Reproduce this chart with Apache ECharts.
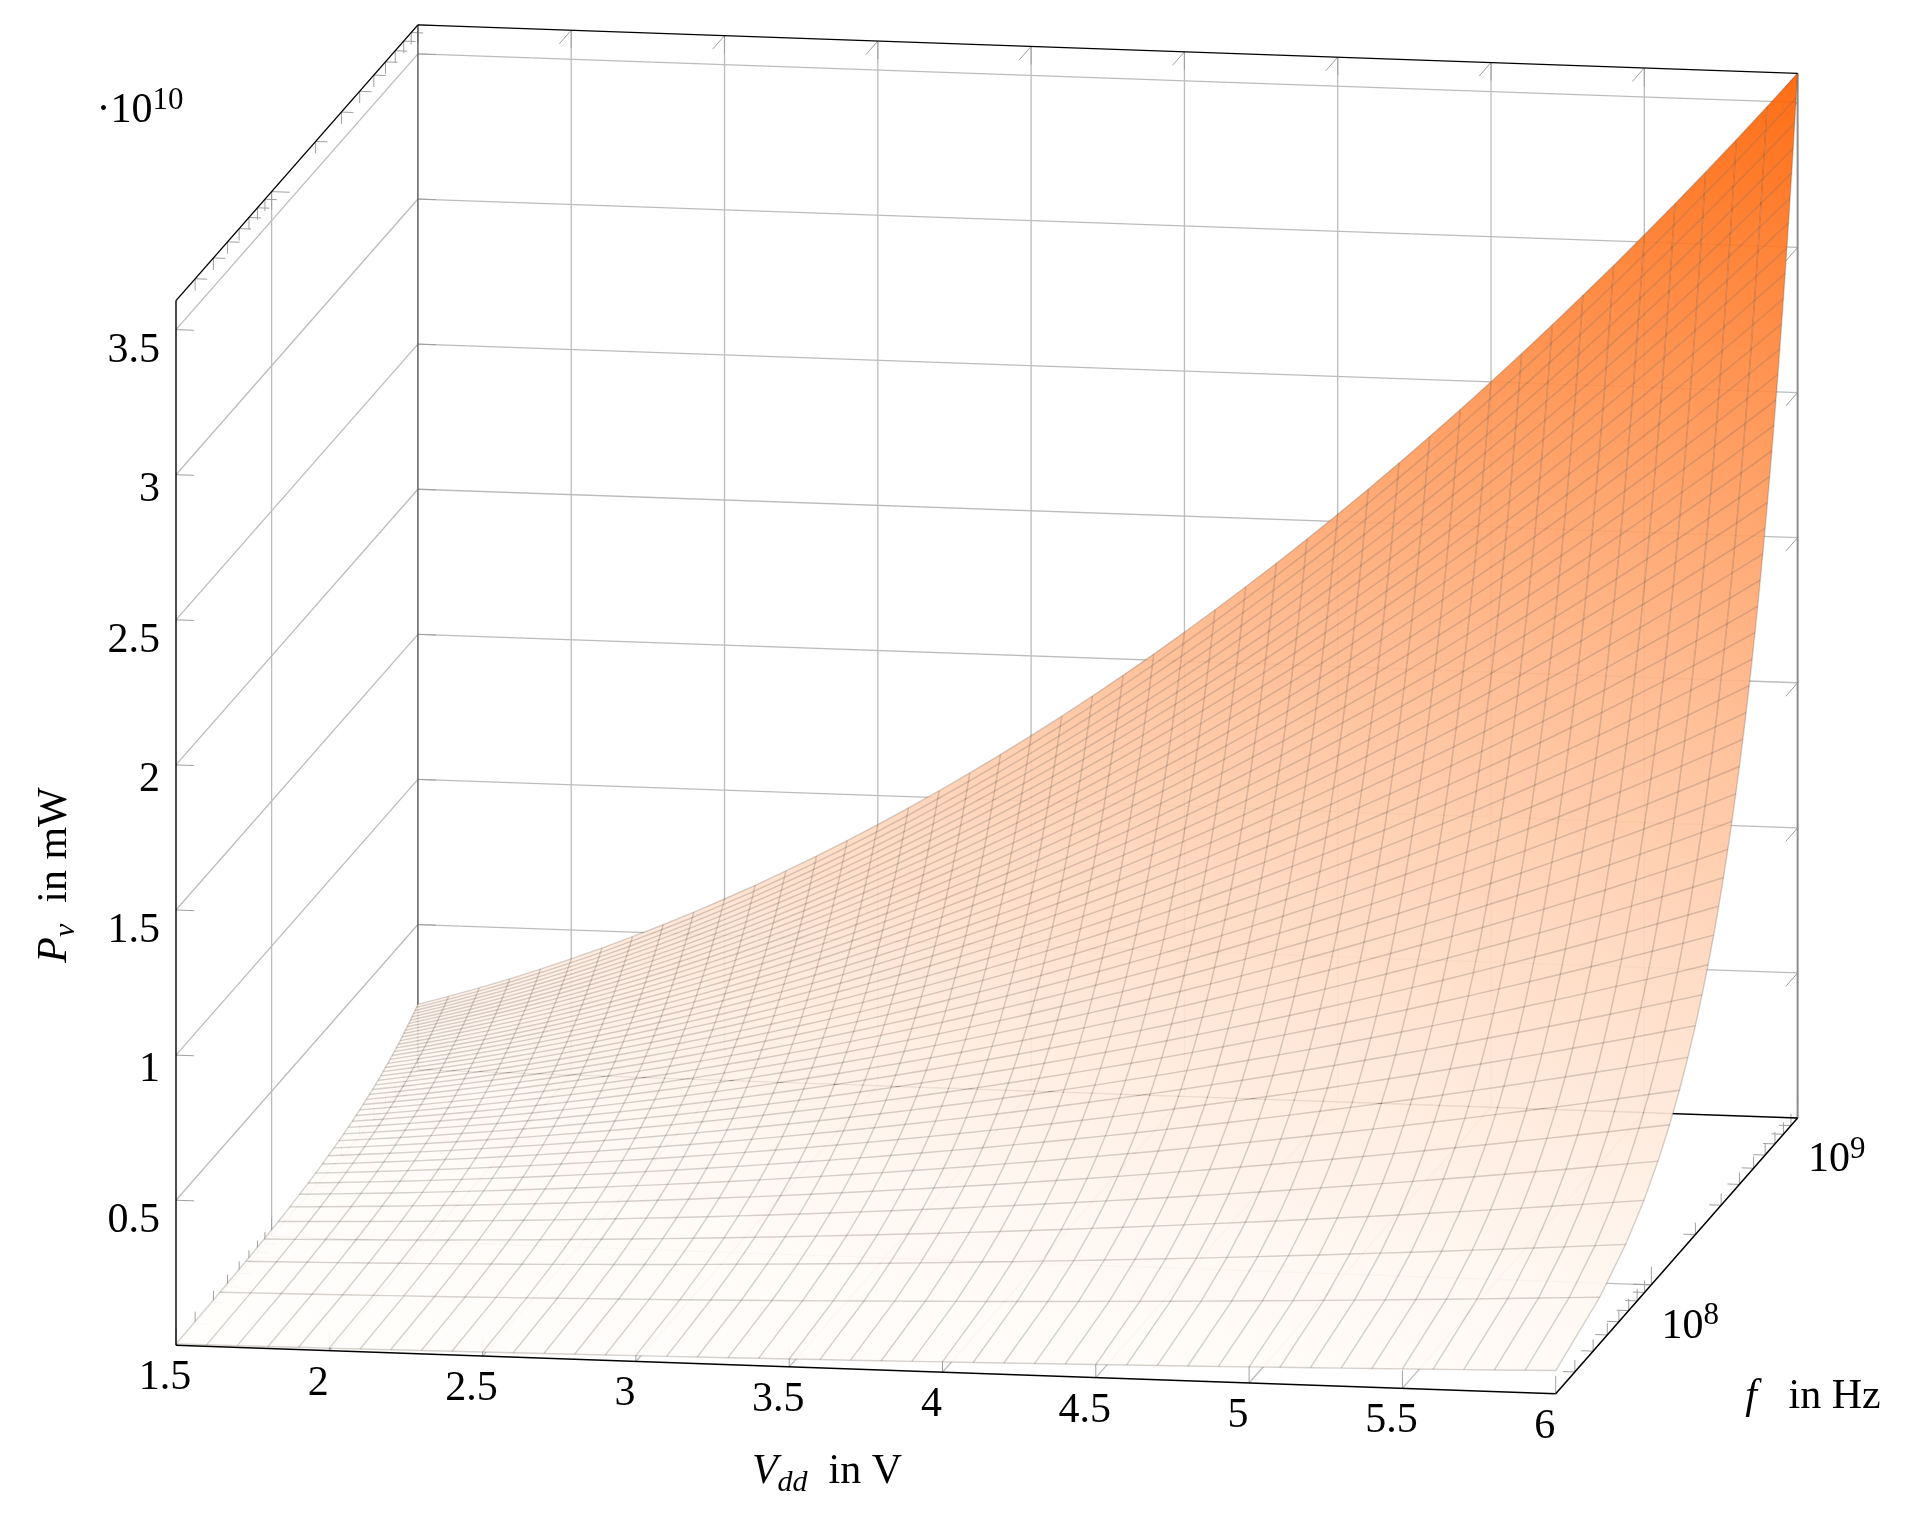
<!DOCTYPE html>
<html>
<head>
<meta charset="utf-8">
<title>Pv over Vdd and f</title>
<script src="https://cdn.jsdelivr.net/npm/echarts@6/dist/echarts.min.js"></script>
<style>
  html, body { margin: 0; background: #fff; }
  #chart { width: 1920px; height: 1529px; }
</style>
</head>
<body>
<div id="chart"></div>
<script>
// mesh samples: V, f in MHz, power along the back edge (f = 1 GHz) in 1e10 mW
const voltages = [1.5,1.6,1.7,1.8,1.9,2,2.1,2.2,2.3,2.4,2.5,2.6,2.7,2.8,2.9,3,3.1,3.2,3.3,3.4,3.5,3.6,3.7,3.8,3.9,4,4.1,4.2,4.3,4.4,4.5,4.6,4.7,4.8,4.9,5,5.1,5.2,5.3,5.4,5.5,5.6,5.7,5.8,5.9,6]
const frequencies = [22.2,44.4,66.7,88.9,111.1,133.3,155.6,177.8,200,222.2,244.4,266.7,288.9,311.1,333.3,355.6,377.8,400,422.2,444.4,466.7,488.9,511.1,533.3,555.6,577.8,600,622.2,644.4,666.7,688.9,711.1,733.3,755.6,777.8,800,822.2,844.4,866.7,888.9,911.1,933.3,955.6,977.8,1000]
const backEdgePower = [0.225,0.256,0.289,0.324,0.361,0.4,0.441,0.484,0.529,0.576,0.625,0.676,0.729,0.784,0.841,0.9,0.961,1.024,1.089,1.156,1.225,1.296,1.369,1.444,1.521,1.6,1.681,1.764,1.849,1.936,2.025,2.116,2.209,2.304,2.401,2.5,2.601,2.704,2.809,2.916,3.025,3.136,3.249,3.364,3.481,3.6]

// ticks
const vTicks = [1.5,2,2.5,3,3.5,4,4.5,5,5.5,6]
const vTickLabels = ['1.5','2','2.5','3','3.5','4','4.5','5','5.5','6']
const pTicks = [0.5,1,1.5,2,2.5,3,3.5]
const pTickLabels = ['0.5','1','1.5','2','2.5','3','3.5']
const fMajorTicks = [100,1000]
const fMajorExponents = ['8','9']
const fMinorTicks = [30,40,50,60,70,80,90,200,300,400,500,600,700,800,900]

const vMin = 1.5, vMax = 6, pMax = 3.6
const fMin = frequencies[0], fMax = frequencies[frequencies.length - 1]
// table for the mesh, built from the arrays above (scales linearly with f)
const power = voltages.map(function (v, i) {
  return frequencies.map(function (f) { return backEdgePower[i] * f / fMax })
})

const serif = '"Liberation Serif", "DejaVu Serif", serif'
const chart = echarts.init(document.getElementById('chart'))

// the box is drawn as an oblique projection on one hidden cartesian grid:
// going back in f shifts right in V units and up in P units
const depthRight = 0.789, depthUp = 0.95, vShear = 0.1669
function depthOf(f) {
  return (Math.log10(f) - Math.log10(fMin)) / (Math.log10(fMax) - Math.log10(fMin))
}
function project(api, v, d, p) {
  return api.coord([v + d * depthRight, p + d * depthUp - (v - vMin) / (vMax - vMin) * vShear])
}

function mix(p) {
  const t = Math.max(0, Math.min(1, p / pMax))
  return 'rgb(255,' + Math.round(254 - t * 157) + ',' + Math.round(252 - t * 252) + ')'
}

// tick sizes in axis units
const tickV = 0.059, tickP = 0.062, tickD = 0.049, minor = 0.66

const grayLines = []
const tickLines = []
function seg(list, a, b) { list.push([a, b]) }

vTicks.forEach(function (v) {
  if (v > vMin && v < vMax) seg(grayLines, [v, 1, 0], [v, 1, pMax])
  if (v > vMin) seg(grayLines, [v, 0, 0], [v, 1, 0])
  seg(tickLines, [v, 0, 0], [v, 0, tickP])
  seg(tickLines, [v, 1, pMax], [v, 1, pMax - tickP])
  seg(tickLines, [v, 1, pMax], [v, 1 - tickD, pMax])
})
pTicks.forEach(function (p) {
  seg(grayLines, [vMin, 0, p], [vMin, 1, p])
  seg(grayLines, [vMin, 1, p], [vMax, 1, p])
  seg(tickLines, [vMin, 0, p], [vMin + tickV, 0, p])
  seg(tickLines, [vMin, 1, p], [vMin + tickV, 1, p])
  seg(tickLines, [vMax, 1, p], [vMax, 1 - tickD, p])
})
seg(grayLines, [vMin, 0, 0], [vMin, 1, 0])
function fTick(f, k) {
  const d = depthOf(f)
  seg(tickLines, [vMin, d, pMax], [vMin + tickV * k, d, pMax])
  seg(tickLines, [vMin, d, pMax], [vMin, d, pMax - tickP * k])
  seg(tickLines, [vMax, d, 0], [vMax - tickV * k, d, 0])
  seg(tickLines, [vMax, d, 0], [vMax, d, tickP * k])
  seg(tickLines, [vMin, d, 0], [vMin + tickV * k, d, 0])
  seg(tickLines, [vMin, d, 0], [vMin, d, tickP * k])
}
fMajorTicks.forEach(function (f) { fTick(f, 1) })
fMinorTicks.forEach(function (f) { fTick(f, minor) })
const fGrid = depthOf(fMajorTicks[0])
seg(grayLines, [vMin, fGrid, 0], [vMin, fGrid, pMax])
seg(grayLines, [vMin, fGrid, 0], [vMax, fGrid, 0])

function lineSeries(name, z, segments, color, width) {
  return {
    name: name, type: 'custom', coordinateSystem: 'cartesian2d', z: z, silent: true,
    data: segments.map(function (s, i) { return [i] }),
    renderItem: function (params, api) {
      const s = segments[params.dataIndex]
      const a = project(api, s[0][0], s[0][1], s[0][2])
      const b = project(api, s[1][0], s[1][1], s[1][2])
      return {
        type: 'line', silent: true,
        shape: { x1: a[0], y1: a[1], x2: b[0], y2: b[1] },
        style: { stroke: color, lineWidth: width }
      }
    }
  }
}

// cells back to front
const cells = []
for (let j = frequencies.length - 2; j >= 0; j--) {
  for (let i = 0; i < voltages.length - 1; i++) cells.push([i, j])
}
const meshLines = []
voltages.forEach(function (v, i) {
  meshLines.push(frequencies.map(function (f, j) { return [v, depthOf(f), power[i][j]] }))
})
frequencies.forEach(function (f, j) {
  meshLines.push(voltages.map(function (v, i) { return [v, depthOf(f), power[i][j]] }))
})

function vertex(api, i, j) {
  return project(api, voltages[i], depthOf(frequencies[j]), power[i][j])
}

const surfaceSeries = {
  name: 'surface', type: 'custom', coordinateSystem: 'cartesian2d', z: 3, silent: true,
  data: cells,
  renderItem: function (params, api) {
    const c = cells[params.dataIndex], i = c[0], j = c[1]
    const a = vertex(api, i, j), b = vertex(api, i + 1, j)
    const d = vertex(api, i + 1, j + 1), e = vertex(api, i, j + 1)
    return {
      type: 'polygon', silent: true,
      shape: { points: [a, b, d, e] },
      style: {
        opacity: 0.92,
        fill: new echarts.graphic.LinearGradient(a[0], a[1], d[0], d[1], [
          { offset: 0, color: mix(power[i][j]) },
          { offset: 1, color: mix(power[i + 1][j + 1]) }
        ], true)
      }
    }
  }
}

const meshSeries = {
  name: 'mesh', type: 'custom', coordinateSystem: 'cartesian2d', z: 4, silent: true,
  data: meshLines.map(function (s, i) { return [i] }),
  renderItem: function (params, api) {
    return {
      type: 'polyline', silent: true,
      shape: {
        points: meshLines[params.dataIndex].map(function (q) { return project(api, q[0], q[1], q[2]) })
      },
      style: { fill: null, stroke: 'rgba(70,50,35,0.22)', lineWidth: 1.4 }
    }
  }
}

// labels: anchor in data coords (or null for a fixed spot) plus pixel offset
const big = { fontSize: 42, fontFamily: serif, lineHeight: 52, color: '#000' }
const sup = { fontSize: 31, fontFamily: serif, lineHeight: 30, verticalAlign: 'top', color: '#000' }
const labels = []
vTicks.forEach(function (v, i) {
  labels.push({ at: [v, 0, 0], dx: -11, dy: 33, text: vTickLabels[i], align: 'center' })
})
pTicks.forEach(function (p, i) {
  // whole numbers sit a little higher than the ones with a decimal point
  labels.push({ at: [vMin, 0, p], dx: -16, dy: pTickLabels[i].length === 1 ? 15 : 21, text: pTickLabels[i], align: 'right' })
})
fMajorTicks.forEach(function (f, i) {
  labels.push({
    at: [vMax, depthOf(f), 0], dx: 39, dy: 42, align: 'center',
    text: '{b|10}{s|' + fMajorExponents[i] + '}', rich: { b: big, s: sup }
  })
})
labels.push({
  px: [140, 111], align: 'center', text: '{b|·10}{s|10}', rich: { b: big, s: sup }
})
const it = { fontSize: 42, fontFamily: serif, fontStyle: 'italic', lineHeight: 52, color: '#000' }
const rm = { fontSize: 42, fontFamily: serif, lineHeight: 52, color: '#000' }
const sub = { fontSize: 30, fontFamily: serif, fontStyle: 'italic', lineHeight: 30, verticalAlign: 'bottom', color: '#000' }
labels.push({
  px: [827, 1472], align: 'center', text: '{i|V}{u|dd}{r|\u00a0\u00a0in V}', rich: { i: it, u: sub, r: rm }
})
labels.push({
  px: [1813, 1397], align: 'center', text: '{i|f}{r|\u00a0\u00a0\u00a0in Hz}', rich: { i: it, r: rm }
})
labels.push({
  px: [55, 875], rotation: Math.PI / 2, align: 'center', text: '{i|P}{u|v}{r|\u00a0\u00a0in mW}', rich: { i: it, u: sub, r: rm }
})

const labelSeries = {
  name: 'labels', type: 'custom', coordinateSystem: 'cartesian2d', z: 6, silent: true,
  data: labels.map(function (l, i) { return [i] }),
  renderItem: function (params, api) {
    const l = labels[params.dataIndex]
    const pos = l.px || project(api, l.at[0], l.at[1], l.at[2]).map(function (q, k) { return q + (k ? l.dy : l.dx) })
    return {
      type: 'text', silent: true, x: pos[0], y: pos[1], rotation: l.rotation || 0,
      style: {
        text: l.text, rich: l.rich, fontSize: 42, fontFamily: serif, fill: '#000',
        align: l.align, verticalAlign: 'middle'
      }
    }
  }
}

const blackEdges = [
  [[vMin, 0, 0], [vMax, 0, 0]],
  [[vMax, 0, 0], [vMax, 1, 0]],
  [[vMin, 0, pMax], [vMin, 1, pMax]],
  [[vMin, 1, pMax], [vMax, 1, pMax]],
  [[vMin, 0, 0], [vMin, 0, pMax]]
]

chart.setOption({
  animation: false,
  backgroundColor: '#fff',
  grid: { left: 176, top: 10.4, width: 1625, height: 1451 },
  xAxis: { type: 'value', min: 1.5, max: 6.8, show: false },
  yAxis: { type: 'value', min: -0.4, max: 4.6, show: false },
  series: [
    lineSeries('grid', 1, grayLines, '#bcbcbc', 1.3),
    lineSeries('ticks', 2, tickLines, '#a0a0a0', 1),
    lineSeries('back left edge', 2, [[[vMin, 1, 0], [vMin, 1, pMax]]], '#555', 1.4),
    lineSeries('back right edge', 2, [[[vMax, 1, 0], [vMax, 1, pMax]]], '#8c8c8c', 2),
    lineSeries('back floor edge', 2, [[[vMin, 1, 0], [vMax, 1, 0]]], '#000', 1.4),
    surfaceSeries,
    meshSeries,
    lineSeries('box', 5, blackEdges, '#000', 1.4),
    labelSeries
  ]
})
</script>
</body>
</html>
